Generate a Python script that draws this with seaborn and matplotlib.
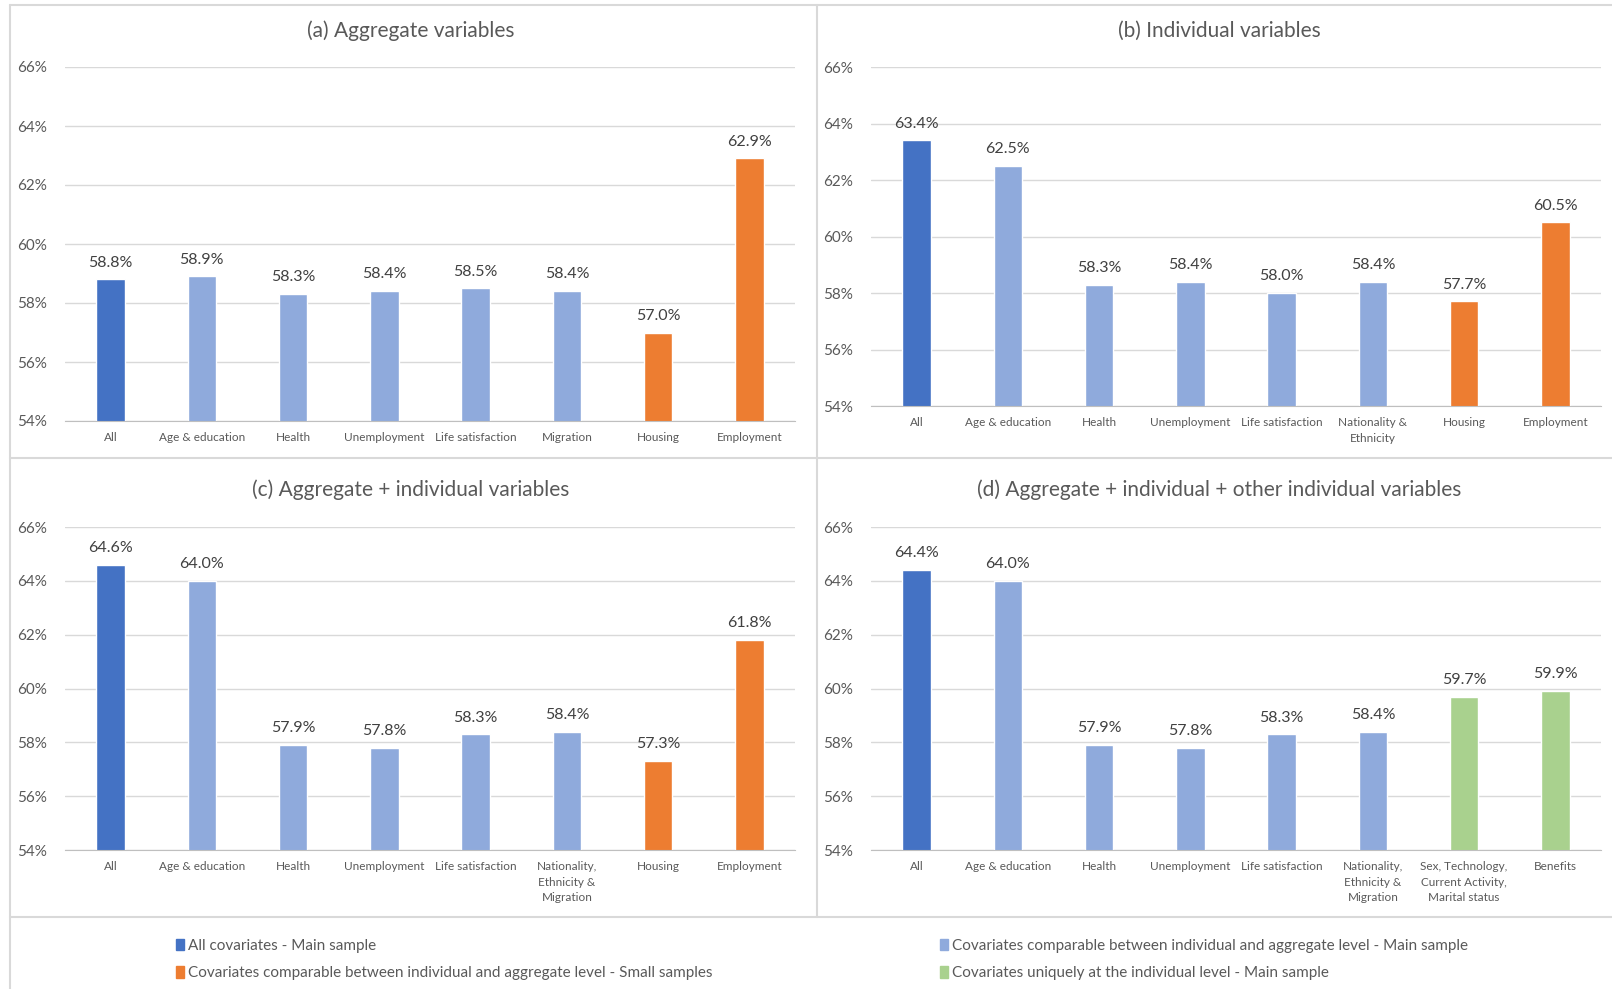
import seaborn as sns
import matplotlib.pyplot as plt
from matplotlib.lines import Line2D
from matplotlib.patches import Patch

# data
cats_a = ['All', 'Age & education', 'Health', 'Unemployment', 'Life satisfaction',
          'Migration', 'Housing', 'Employment']
vals_a = [58.8, 58.9, 58.3, 58.4, 58.5, 58.4, 57.0, 62.9]
grp_a = ['all', 'comp', 'comp', 'comp', 'comp', 'comp', 'small', 'small']

cats_b = ['All', 'Age & education', 'Health', 'Unemployment', 'Life satisfaction',
          'Nationality &\nEthnicity', 'Housing', 'Employment']
vals_b = [63.4, 62.5, 58.3, 58.4, 58.0, 58.4, 57.7, 60.5]
grp_b = ['all', 'comp', 'comp', 'comp', 'comp', 'comp', 'small', 'small']

cats_c = ['All', 'Age & education', 'Health', 'Unemployment', 'Life satisfaction',
          'Nationality,\nEthnicity &\nMigration', 'Housing', 'Employment']
vals_c = [64.6, 64.0, 57.9, 57.8, 58.3, 58.4, 57.3, 61.8]
grp_c = ['all', 'comp', 'comp', 'comp', 'comp', 'comp', 'small', 'small']

cats_d = ['All', 'Age & education', 'Health', 'Unemployment', 'Life satisfaction',
          'Nationality,\nEthnicity &\nMigration', 'Sex, Technology,\nCurrent Activity,\nMarital status',
          'Benefits']
vals_d = [64.4, 64.0, 57.9, 57.8, 58.3, 58.4, 59.7, 59.9]
grp_d = ['all', 'comp', 'comp', 'comp', 'comp', 'comp', 'unique', 'unique']

titles = ['(a) Aggregate variables', '(b) Individual variables',
          '(c) Aggregate + individual variables',
          '(d) Aggregate + individual + other individual variables']

group_colors = {'all': '#4472C4', 'comp': '#8FAADC', 'small': '#ED7D31', 'unique': '#A9D18E'}
legend_labels = {'all': 'All covariates - Main sample',
                 'comp': 'Covariates comparable between individual and aggregate level - Main sample',
                 'small': 'Covariates comparable between individual and aggregate level - Small samples',
                 'unique': 'Covariates uniquely at the individual level - Main sample'}

sns.set_style('white')
plt.rcParams['font.family'] = ['Lato', 'DejaVu Sans']

W, H = 1612, 989
fig = plt.figure(figsize=(W / 100, H / 100), dpi=100)

def box(x0, x1, ytop, ybot):
    return [x0 / W, 1 - ybot / H, (x1 - x0) / W, (ybot - ytop) / H]

panels = [
    (cats_a, vals_a, grp_a, box(65, 795, 67, 421), (411, 31)),
    (cats_b, vals_b, grp_b, box(871, 1601, 67, 406), (1219, 31)),
    (cats_c, vals_c, grp_c, box(65, 795, 527, 850), (411, 490)),
    (cats_d, vals_d, grp_d, box(871, 1601, 527, 850), (1219, 490)),
]

grey = '#595959'
for i, (cats, vals, grps, pos, tpos) in enumerate(panels):
    ax = fig.add_axes(pos)
    pal = {c: group_colors[g] for c, g in zip(cats, grps)}
    sns.barplot(x=cats, y=vals, hue=cats, palette=pal, width=0.31,
                legend=False, ax=ax, saturation=1)
    ax.set_ylim(54, 66)
    ax.set_xlim(-0.5, len(cats) - 0.5)
    ax.set_yticks(range(54, 67, 2))
    ax.set_yticklabels([f'{v}%' for v in range(54, 67, 2)], fontsize=11, color=grey)
    ax.tick_params(axis='y', length=0, pad=13)
    ax.tick_params(axis='x', length=0, pad=8, labelsize=8.5, labelcolor=grey)
    ax.set_xticks(range(len(cats)))
    ax.set_xticklabels(cats, linespacing=1.5, va='top')
    ax.grid(axis='y', color='#d9d9d9', lw=1)
    ax.set_axisbelow(True)
    for s in ['left', 'right', 'top']:
        ax.spines[s].set_visible(False)
    ax.spines['bottom'].set_color('#bfbfbf')
    if i == 0:
        ax.set_xticks([k + 0.5 for k in range(-1, len(cats))], minor=True)
        ax.tick_params(axis='x', which='minor', length=5, color='#bfbfbf')
    for cont in ax.containers:
        ax.bar_label(cont, fmt='%.1f%%', padding=7, fontsize=11.5, color='#404040')
    ax.set_xlabel('')
    ax.set_ylabel('')
    fig.text(tpos[0] / W, 1 - tpos[1] / H, titles[i], ha='center', va='center',
             fontsize=15, color=grey)

# panel frame lines
lc = '#d9d9d9'
for (x0, y0, x1, y1) in [(10, 5, 1612, 5), (10, 5, 10, 989), (817, 5, 817, 917),
                         (10, 458, 1612, 458), (10, 917, 1612, 917)]:
    fig.add_artist(Line2D([x0 / W, x1 / W], [1 - y0 / H, 1 - y1 / H], color=lc, lw=1.5))

def handles(keys):
    return [Patch(color=group_colors[k], label=legend_labels[k]) for k in keys]

leg_kw = dict(frameon=False, fontsize=11, handlelength=0.55, handleheight=0.8,
              handletextpad=0.25, labelspacing=0.85, labelcolor=grey)
fig.legend(handles=handles(['all', 'small']), loc='upper left',
           bbox_to_anchor=(162 / W, 1 - 925 / H), **leg_kw)
fig.legend(handles=handles(['comp', 'unique']), loc='upper left',
           bbox_to_anchor=(926 / W, 1 - 925 / H), **leg_kw)

fig.savefig('out.png', dpi=100)
